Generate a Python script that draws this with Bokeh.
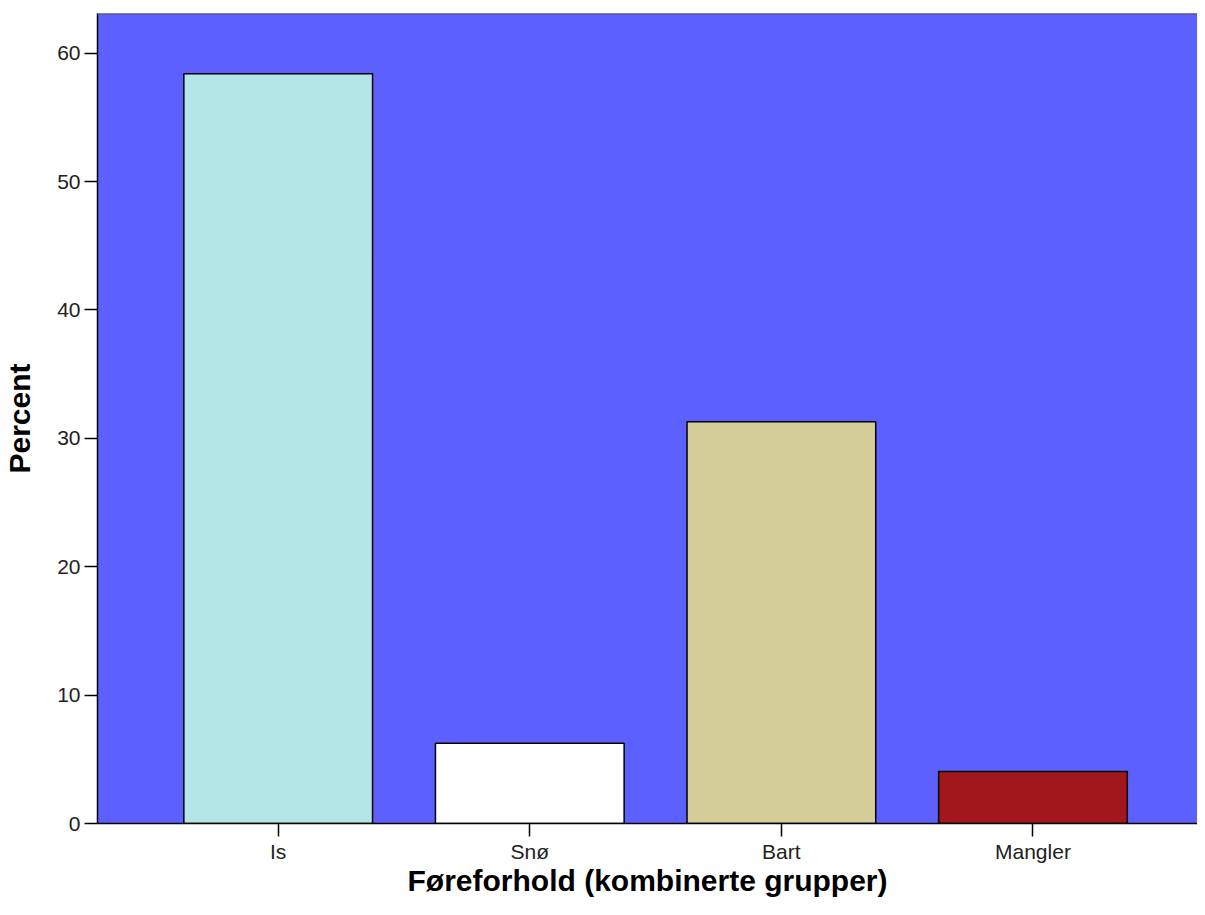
from bokeh.plotting import figure
from bokeh.models import ColumnDataSource, FixedTicker, Range1d, Span
from bokeh.embed import file_html
from bokeh.resources import INLINE

# ---- data ----
categories = ["Is", "Snø", "Bart", "Mangler"]
percents = [58.4, 6.25, 31.3, 4.05]
bar_colors = ["#B4E6E8", "#FFFFFF", "#D4CD98", "#A1171B"]
y_ticks = [0, 10, 20, 30, 40, 50, 60]
x_title = "Føreforhold (kombinerte grupper)"
y_title = "Percent"

positions = list(range(1, len(categories) + 1))
source = ColumnDataSource(dict(x=positions, top=percents, color=bar_colors, cat=categories))

Y_TOP = 63.09

p = figure(
    width=1197, height=899,
    x_range=Range1d(0.2818, 4.654),
    y_range=Range1d(0, Y_TOP),
    output_backend="svg",
    toolbar_location=None,
    min_border_left=97, min_border_right=0,
    min_border_top=13, min_border_bottom=76,
)

p.background_fill_color = "#5C60FF"
p.border_fill_color = "white"
p.outline_line_color = None
p.grid.visible = False

p.vbar(x="x", top="top", bottom=0, width=0.75, source=source,
       fill_color="color", line_color="black", line_width=1.5)

p.add_layout(Span(location=Y_TOP, dimension="width", line_color="#555555", line_width=2))

# axes
for ax in (p.xaxis[0], p.yaxis[0]):
    ax.axis_line_color = "black"
    ax.axis_line_width = 1.5
    ax.major_tick_line_color = "black"
    ax.major_tick_line_width = 1.5
    ax.major_tick_out = 13
    ax.major_tick_in = 0
    ax.minor_tick_line_color = None
    ax.major_label_text_font = "Liberation Sans"
    ax.major_label_text_font_size = "21px"
    ax.major_label_text_color = "#222222"
    ax.axis_label_text_font = "Liberation Sans"
    ax.axis_label_text_font_size = "30px"
    ax.axis_label_text_font_style = "bold"
    ax.axis_label_text_color = "black"

p.xaxis.ticker = FixedTicker(ticks=positions)
p.xaxis.major_label_overrides = {pos: c for pos, c in zip(positions, categories)}
p.xaxis.major_label_standoff = 3
p.xaxis.axis_label = x_title
p.xaxis.axis_label_standoff = -2

p.yaxis.ticker = FixedTicker(ticks=y_ticks)
p.yaxis.major_label_standoff = 4
p.yaxis.axis_label = y_title
p.yaxis.axis_label_standoff = 18

open("out.html", "w").write(file_html(p, INLINE))
